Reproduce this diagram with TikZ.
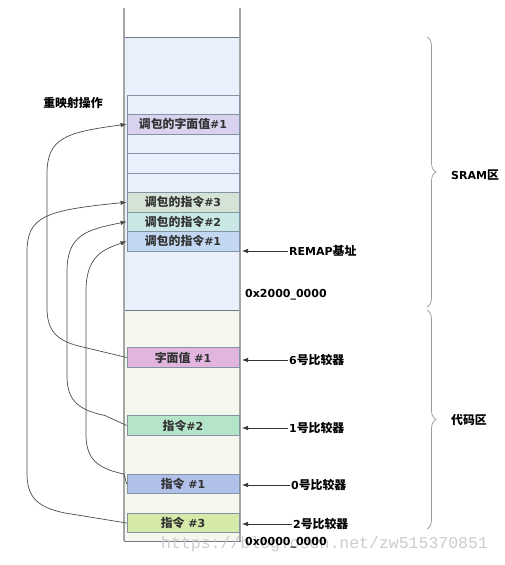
\documentclass[tikz,border=0pt]{standalone}
\usepackage{fontspec}
\setmainfont{DejaVu Sans}
\newfontfamily\zh{Noto Sans CJK SC}[Scale=1.08]
\newfontfamily\wmfont{Liberation Mono}
\usetikzlibrary{arrows.meta, positioning, calc, decorations.pathreplacing}

\definecolor{sramfill}{HTML}{E9F0FB}
\definecolor{codefill}{HTML}{F5F6ED}
\definecolor{frameline}{HTML}{6F7B88}
\definecolor{sideline}{HTML}{A6A6A6}
\definecolor{slotline}{HTML}{8393A3}
\definecolor{rlitfill}{HTML}{D9D2EE}
\definecolor{rins3fill}{HTML}{D5E3D6}
\definecolor{rins2fill}{HTML}{C9E7E5}
\definecolor{rins1fill}{HTML}{C3D7F3}
\definecolor{litfill}{HTML}{E2B5DF}
\definecolor{ins2fill}{HTML}{B4E5C8}
\definecolor{ins1fill}{HTML}{B1C0E9}
\definecolor{ins3fill}{HTML}{D5E9A8}

\tikzset{
  slot/.style={draw=slotline, line width=0.8pt, minimum width=112pt, minimum height=19.5pt,
    inner sep=0pt, font=\bfseries\fontsize{11}{13}\selectfont, text=black!80},
  remap/.style={draw=black!70, line width=0.7pt, -{Latex[length=6pt,width=4.5pt]}},
  pointer/.style={draw=black!80, line width=0.7pt, -{Latex[length=6pt,width=4.5pt]}},
  lbl/.style={font=\bfseries\fontsize{11}{13}\selectfont, anchor=west, inner sep=1pt},
  region/.style={draw=gray!80, line width=0.7pt, decorate, decoration={brace, amplitude=9pt}}
}

\begin{document}
\begin{tikzpicture}[x=1pt, y=-1pt]
\useasboundingbox (0,0) rectangle (504,565);
% memory column
\filldraw[fill=sramfill, draw=frameline, line width=0.7pt] (124,37) rectangle (240,310);
\filldraw[fill=codefill, draw=frameline, line width=0.7pt] (124,310) rectangle (240,541);
\draw[sideline, line width=2pt] (124,8) -- (124,541) (240,8) -- (240,541);

% SRAM slots
\foreach \name/\txt/\col [count=\i from 0] in {
    s0/{}/sramfill, rlit/{{\zh 调包的字面值}\#1}/rlitfill, s2/{}/sramfill, s3/{}/sramfill,
    s4/{}/sramfill, rins3/{{\zh 调包的指令}\#3}/rins3fill, rins2/{{\zh 调包的指令}\#2}/rins2fill,
    rins1/{{\zh 调包的指令}\#1}/rins1fill}
  \node[slot, fill=\col] (\name) at (183,{104.75+19.5*\i}) {\txt};

% code slots
\node[slot, fill=litfill] (lit1) at (183,357.5) {{\zh 字面值} \#1};
\node[slot, fill=ins2fill] (ins2) at (183,425.5) {{\zh 指令}\#2};
\node[slot, fill=ins1fill] (ins1) at (183,484) {{\zh 指令} \#1};
\node[slot, fill=ins3fill] (ins3) at (183,523) {{\zh 指令} \#3};

% remap curves
\node[lbl, anchor=center] (remapop) at (73,103) {\zh 重映射操作};
\foreach \src/\tgt/\xv/\ys/\yt in {lit1/rlit/47/357.5/124.25, ins2/rins2/67/425.5/221.75,
    ins1/rins1/86/484/241.25, ins3/rins3/27/523/202.25}
  \draw[remap] (\src.west) -- ({\xv+38},{\ys-10})
    .. controls ({\xv+8},{\ys-16}) and (\xv,{\ys-28}) .. (\xv,{\ys-50})
    -- (\xv,{\yt+50}) .. controls (\xv,{\yt+14}) and ({\xv+18},{\yt+8}) .. (\tgt.west);

% comparators and base
\coordinate (colR) at (242,0);
\node[lbl] (remapbase) at (288,251) {REMAP{\zh 基址}};
\node[lbl] (cmp6) at (288,360) {6{\zh 号比较器}};
\node[lbl] (cmp1) at (288,428) {1{\zh 号比较器}};
\node[lbl] (cmp0) at (290,485) {0{\zh 号比较器}};
\node[lbl] (cmp2) at (292,524) {2{\zh 号比较器}};
\foreach \n in {remapbase, cmp6, cmp1, cmp0, cmp2}
  \draw[pointer] (\n.west) -- (\n.west -| colR);

% regions
\draw[region] (427,37) -- (427,307);
\draw[region] (427,310) -- (427,529);
\node[lbl] (sram) at (450,175) {SRAM{\zh 区}};
\node[lbl] (code) at (450,420) {\zh 代码区};

\node[font=\wmfont\fontsize{16.5}{18}\selectfont, text=gray!40, anchor=west, inner sep=0pt]
  (wm) at (161,544) {https://blog.csdn.net/zw515370851};
\node[lbl] (addr2) at (244,295) {0x2000\_0000};
\node[lbl] (addr0) at (244,543) {0x0000\_0000};
\end{tikzpicture}
\end{document}
